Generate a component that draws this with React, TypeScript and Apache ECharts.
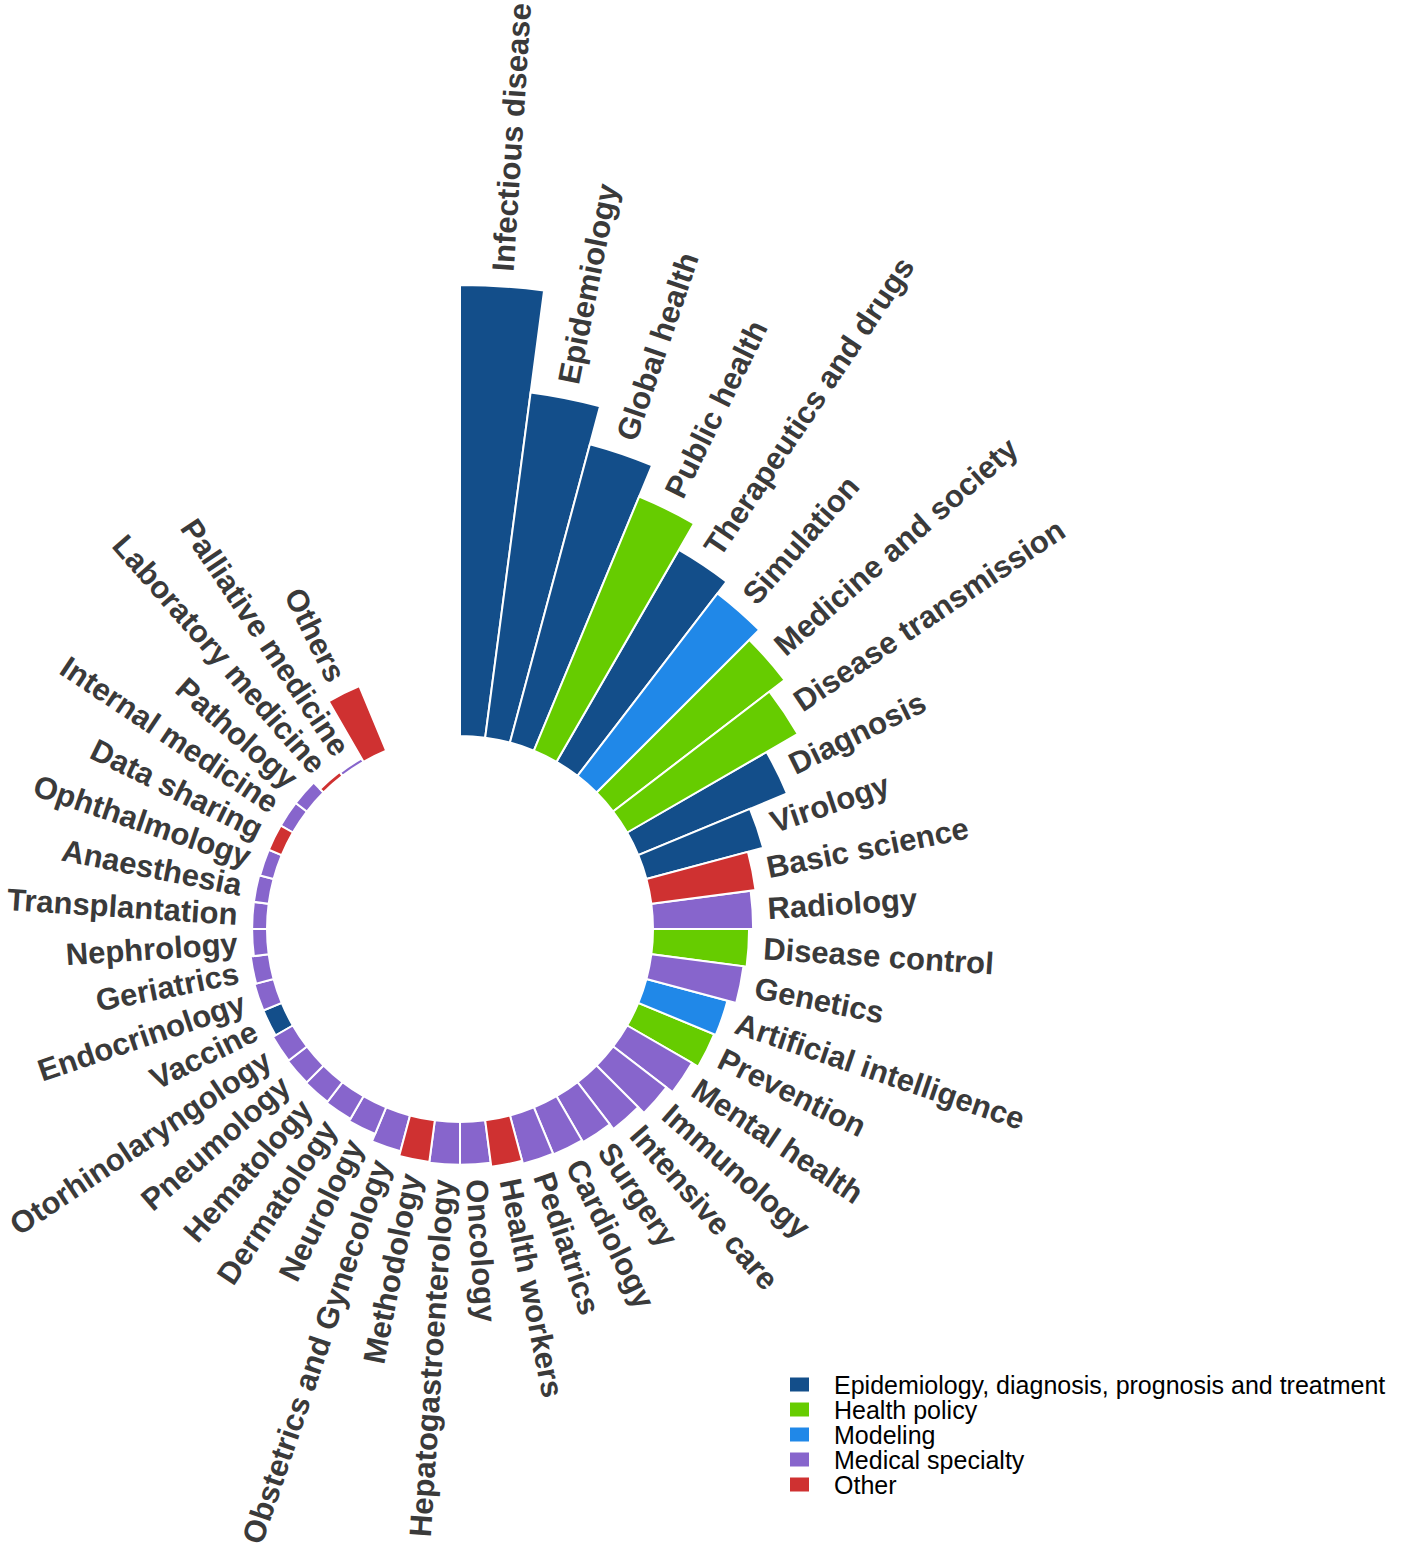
import React, { useEffect, useRef } from "react";
import * as echarts from "echarts";

const CATEGORIES = [
  "Infectious disease", "Epidemiology", "Global health", "Public health", "Therapeutics and drugs",
  "Simulation", "Medicine and society", "Disease transmission", "Diagnosis", "Virology",
  "Basic science", "Radiology", "Disease control", "Genetics", "Artificial intelligence",
  "Prevention", "Mental health", "Immunology", "Intensive care", "Surgery",
  "Cardiology", "Pediatrics", "Health workers", "Oncology", "Hepatogastroenterology",
  "Methodology", "Obstetrics and Gynecology", "Neurology", "Dermatology", "Hematology",
  "Pneumology", "Otorhinolaryngology", "Vaccine", "Endocrinology", "Geriatrics",
  "Nephrology", "Transplantation", "Anaesthesia", "Ophthalmology", "Data sharing",
  "Internal medicine", "Pathology", "Laboratory medicine", "Palliative medicine", "Others",
];

const VALUES = [
  100, 77.2, 68.5, 61, 54.3,
  51, 47.9, 43.7, 35.7, 26.8,
  23.3, 22.2, 21.3, 20.6, 18.6,
  18.2, 16.6, 14.9, 13.1, 11.8,
  11.3, 11.1, 10.4, 9.5, 9.5,
  9.3, 8.2, 6.4, 5.8, 5.5,
  5.3, 5.1, 4.4, 4.4, 4.0,
  3.3, 3.3, 3.3, 3.1, 3.1,
  3.1, 3.1, 1.1, 0.9, 15.5,
];

// group index per category
const GROUP_OF = [
  0, 0, 0, 1, 0,
  2, 1, 1, 0, 0,
  4, 3, 1, 3, 2,
  1, 3, 3, 3, 3,
  3, 3, 4, 3, 3,
  4, 3, 3, 3, 3,
  3, 3, 0, 3, 3,
  3, 3, 3, 3, 4,
  3, 3, 4, 3, 4,
];

const GROUPS = [
  "Epidemiology, diagnosis, prognosis and treatment",
  "Health policy",
  "Modeling",
  "Medical specialty",
  "Other",
];

const GROUP_COLORS = ["#134e8a", "#66cc00", "#2088e8", "#8765cc", "#cf3131"];

const EMPTY_SLOTS = ["pad1", "pad2", "pad3"];

const LABEL_FONT = "bold 31px 'Liberation Sans', Arial, sans-serif";
const LABEL_GAP = 15;

export default function App() {
  const ref = useRef<HTMLDivElement>(null);

  useEffect(() => {
    document.body.style.margin = "0";
    if (!ref.current) return;
    const chart = echarts.init(ref.current, undefined, { renderer: "svg" });

    const angleData = [...CATEGORIES, ...EMPTY_SLOTS];

    const barSeries = GROUPS.map((g, gi) => ({
      name: g,
      type: "bar",
      coordinateSystem: "polar",
      stack: "all",
      barCategoryGap: "0%",
      itemStyle: { color: GROUP_COLORS[gi], borderColor: "#ffffff", borderWidth: 2 },
      data: CATEGORIES.map((_, i) => (GROUP_OF[i] === gi ? VALUES[i] : "-")),
      silent: true,
    }));

    const labelSeries = {
      type: "custom",
      coordinateSystem: "polar",
      silent: true,
      data: CATEGORIES.map((_, i) => [VALUES[i], i]),
      renderItem: (params: any, api: any) => {
        const v = api.value(0);
        const idx = api.value(1);
        const pt = api.coord([v, idx]);
        const cs = params.coordSys;
        const dx = pt[0] - cs.cx;
        const dy = pt[1] - cs.cy;
        const len = Math.hypot(dx, dy) || 1;
        const x = pt[0] + (dx / len) * LABEL_GAP;
        const y = pt[1] + (dy / len) * LABEL_GAP;
        let theta = (Math.atan2(dx, -dy) * 180) / Math.PI;
        if (theta < 0) theta += 360;
        const right = theta < 180;
        const rotDeg = right ? 90 - theta : 270 - theta;
        return {
          type: "text",
          x,
          y,
          rotation: (rotDeg * Math.PI) / 180,
          style: {
            text: CATEGORIES[params.dataIndex],
            font: LABEL_FONT,
            fill: "#3a3a3a",
            align: right ? "left" : "right",
            verticalAlign: "middle",
          },
        };
      },
    };

    chart.setOption({
      animation: false,
      backgroundColor: "#ffffff",
      polar: { center: [460, 929], radius: [193, 644] },
      angleAxis: {
        type: "category",
        data: angleData,
        startAngle: 90,
        clockwise: true,
        boundaryGap: true,
        axisLine: { show: false },
        axisTick: { show: false },
        axisLabel: { show: false },
        splitLine: { show: false },
      },
      radiusAxis: {
        type: "value",
        min: 0,
        max: 100,
        axisLine: { show: false },
        axisTick: { show: false },
        axisLabel: { show: false },
        splitLine: { show: false },
      },
      legend: {
        data: GROUPS,
        orient: "vertical",
        left: 785,
        top: 1367,
        padding: 5,
        icon: "rect",
        itemWidth: 19,
        itemHeight: 14,
        itemGap: 0,
        selectedMode: false,
        itemStyle: { borderWidth: 0 },
        textStyle: {
          fontFamily: "'Liberation Sans', Arial, sans-serif",
          fontSize: 25,
          lineHeight: 25,
          color: "#000000",
          padding: [0, 0, 0, 20],
        },
      },
      series: [...barSeries, labelSeries],
    });

    return () => chart.dispose();
  }, []);

  return <div ref={ref} style={{ width: 1418, height: 1568 }} />;
}
